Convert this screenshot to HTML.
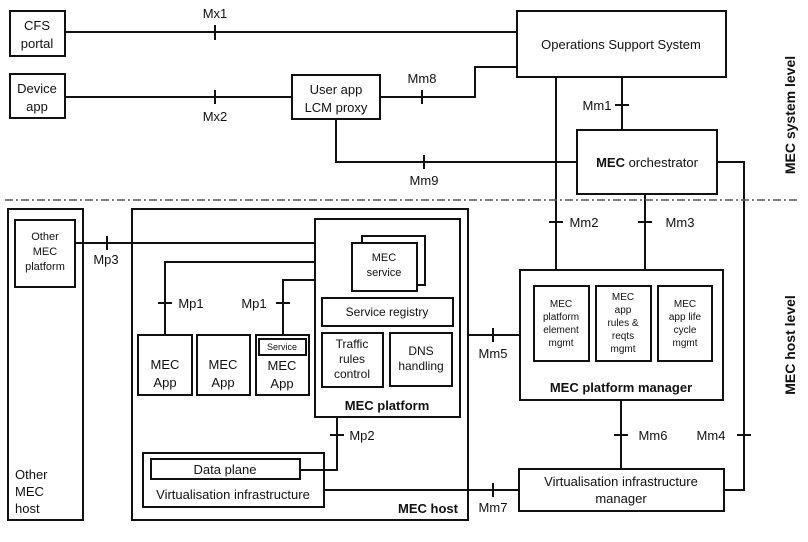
<!DOCTYPE html>
<html><head><meta charset="utf-8"><style>
body{margin:0;background:#fff}
svg text{font-family:"Liberation Sans",Arial,sans-serif;fill:#111}
</style></head><body>
<svg width="808" height="537" viewBox="0 0 808 537" xmlns="http://www.w3.org/2000/svg">
<g fill="none" stroke="#111" stroke-width="2">
<!-- top boxes -->
<rect x="10" y="11" width="55" height="45"/>
<rect x="10" y="74" width="55" height="44"/>
<rect x="292" y="75" width="88" height="44"/>
<rect x="517" y="11" width="209" height="66"/>
<rect x="577" y="130" width="140" height="64"/>
<!-- top lines -->
<path d="M65 32H517"/>
<path d="M65 97H292"/>
<path d="M380 97H475V67H517"/>
<path d="M622 77V130"/>
<path d="M336 119V162H577"/>
<path d="M717 162H744V490H724"/>
<path d="M556 77V270"/>
<path d="M645 194V270"/>
<!-- ticks -->
<path d="M215 25V40M215 90V104M422 90V104M615 105H629M424 155V169M549 222H563M638 222H652M737 435H751M614 435H628M493 328V342M493 483V497M107 236V250M158 303H172M276 303H290M330 435H344"/>
<!-- host part -->
<rect x="8" y="209" width="75" height="311"/>
<rect x="15" y="220" width="60" height="67"/>
<rect x="132" y="209" width="336" height="311"/>
<rect x="315" y="219" width="145" height="198"/>
<rect x="362" y="236" width="63" height="49"/>
<rect x="352" y="243" width="65" height="48" fill="#fff"/>
<rect x="322" y="298" width="131" height="28"/>
<rect x="322" y="333" width="61" height="54"/>
<rect x="390" y="333" width="62" height="53"/>
<rect x="138" y="335" width="54" height="60"/>
<rect x="197" y="335" width="53" height="60"/>
<rect x="256" y="335" width="53" height="60"/>
<rect x="259" y="339" width="47" height="16"/>
<rect x="143" y="453" width="181" height="54"/>
<rect x="151" y="459" width="149" height="20"/>
<path d="M75 243H315"/>
<path d="M165 335V262H315"/>
<path d="M283 335V280H315"/>
<path d="M337 417V470H300"/>
<path d="M324 490H519"/>
<path d="M468 335H520"/>
<!-- manager -->
<rect x="520" y="270" width="203" height="130"/>
<rect x="534" y="286" width="55" height="75"/>
<rect x="596" y="286" width="55" height="75"/>
<rect x="658" y="286" width="54" height="75"/>
<path d="M621 400V469"/>
<rect x="519" y="469" width="205" height="42"/>
</g>
<path d="M5 200H800" stroke="#555" stroke-width="1.5" stroke-dasharray="8,3,2,3" fill="none"/>
<g font-size="13" text-anchor="middle">
<text x="37" y="30">CFS</text><text x="37" y="48">portal</text>
<text x="37" y="93">Device</text><text x="37" y="111">app</text>
<text x="336" y="94">User app</text><text x="336" y="112">LCM proxy</text>
<text x="621" y="49">Operations Support System</text>
<text x="215" y="18">Mx1</text><text x="215" y="121">Mx2</text>
<text x="422" y="83">Mm8</text><text x="424" y="185">Mm9</text>
<text x="597" y="110">Mm1</text>
<text x="647" y="167" font-weight="bold">MEC <tspan font-weight="normal">orchestrator</tspan></text>
<text x="584" y="227">Mm2</text><text x="680" y="227">Mm3</text>
<text x="45" y="240" font-size="11">Other</text><text x="45" y="255" font-size="11">MEC</text><text x="45" y="270" font-size="11">platform</text>
<text x="106" y="264">Mp3</text>
<text x="384" y="261" font-size="11">MEC</text><text x="384" y="276" font-size="11">service</text>
<text x="387" y="316" font-size="12">Service registry</text>
<text x="352" y="348" font-size="12">Traffic</text><text x="352" y="363" font-size="12">rules</text><text x="352" y="378" font-size="12">control</text>
<text x="421" y="355" font-size="12">DNS</text><text x="421" y="370" font-size="12">handling</text>
<text x="387" y="410" font-weight="bold">MEC platform</text>
<text x="191" y="308">Mp1</text><text x="254" y="308">Mp1</text>
<text x="165" y="369">MEC</text><text x="165" y="387">App</text>
<text x="223" y="369">MEC</text><text x="223" y="387">App</text>
<text x="282" y="350" font-size="9">Service</text>
<text x="282" y="370">MEC</text><text x="282" y="388">App</text>
<text x="362" y="440">Mp2</text>
<text x="225" y="474">Data plane</text>
<text x="233" y="499">Virtualisation infrastructure</text>
<text x="428" y="513" font-weight="bold">MEC host</text>
<text x="493" y="358">Mm5</text><text x="493" y="512">Mm7</text>
<text x="561" y="307" font-size="10">MEC</text><text x="561" y="320" font-size="10">platform</text><text x="561" y="333" font-size="10">element</text><text x="561" y="346" font-size="10">mgmt</text>
<text x="623" y="300" font-size="10">MEC</text><text x="623" y="313" font-size="10">app</text><text x="623" y="326" font-size="10">rules &amp;</text><text x="623" y="339" font-size="10">reqts</text><text x="623" y="352" font-size="10">mgmt</text>
<text x="685" y="307" font-size="10">MEC</text><text x="685" y="320" font-size="10">app life</text><text x="685" y="333" font-size="10">cycle</text><text x="685" y="346" font-size="10">mgmt</text>
<text x="621" y="392" font-weight="bold">MEC platform manager</text>
<text x="653" y="440">Mm6</text><text x="711" y="440">Mm4</text>
<text x="621" y="486">Virtualisation infrastructure</text><text x="621" y="503">manager</text>
</g>
<g font-size="13" text-anchor="start">
<text x="15" y="479">Other</text><text x="15" y="496">MEC</text><text x="15" y="513">host</text>
</g>
<g font-size="14" font-weight="bold" text-anchor="middle">
<text transform="translate(795,115) rotate(-90)">MEC system level</text>
<text transform="translate(795,345) rotate(-90)">MEC host level</text>
</g>
</svg>
</body></html>
